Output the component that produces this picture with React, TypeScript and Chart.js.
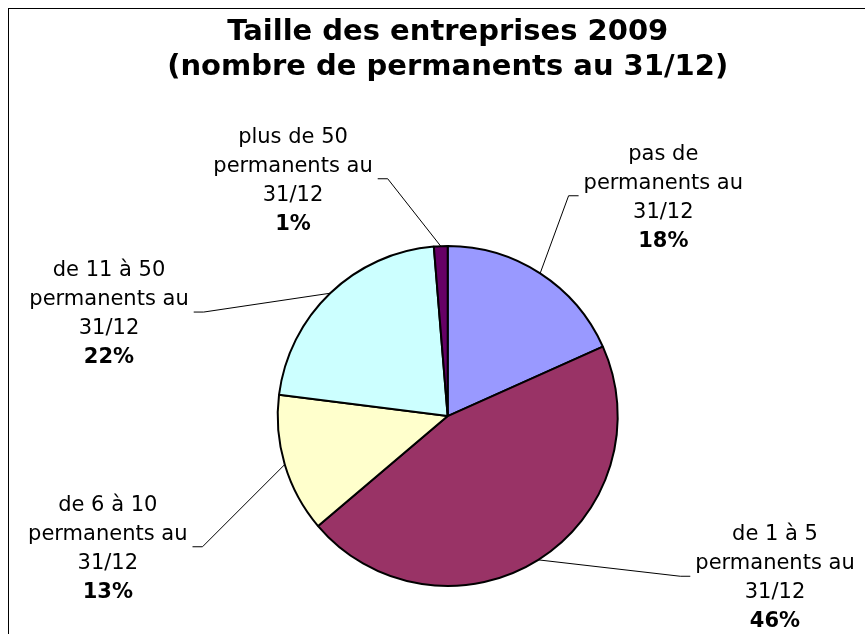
import React, { useEffect, useRef } from "react";
import { Chart, registerables } from "chart.js";

Chart.register(...registerables);

const titleLines = ["Taille des entreprises 2009", "(nombre de permanents au 31/12)"];
const categories = [
  ["pas de", "permanents au", "31/12"],
  ["de 1 à 5", "permanents au", "31/12"],
  ["de 6 à 10", "permanents au", "31/12"],
  ["de 11 à 50", "permanents au", "31/12"],
  ["plus de 50", "permanents au", "31/12"],
];
const values = [18.3, 45.5, 13.2, 21.7, 1.3];
const colors = ["#9999FF", "#993366", "#FFFFCC", "#CCFFFF", "#660066"];

// label box centres relative to the pie centre (styling only)
const labelOffsets = [
  [215.6, -218.3],
  [327.3, 162.2],
  [-339.9, 132.7],
  [-338.7, -102],
  [-154.7, -235.3],
];

const FONT = "'DejaVu Sans', Verdana, sans-serif";

const labelPlugin = {
  id: "outerLabels",
  afterDatasetsDraw(chart: any) {
    const ctx = chart.ctx;
    const meta = chart.getDatasetMeta(0);
    const data = chart.data.datasets[0].data as number[];
    const total = data.reduce((a, b) => a + b, 0);
    const lineH = 29;
    ctx.save();
    meta.data.forEach((arc: any, i: number) => {
      const { x, y, startAngle, endAngle, outerRadius } = arc.getProps(
        ["x", "y", "startAngle", "endAngle", "outerRadius"],
        true
      );
      const mid = (startAngle + endAngle) / 2;
      const sx = x + Math.cos(mid) * outerRadius;
      const sy = y + Math.sin(mid) * outerRadius;
      const lines: string[] = [...(chart.data.labels[i] as string[])];
      const pct = Math.round((data[i] / total) * 100) + "%";
      const cx = x + labelOffsets[i][0];
      const cy = y + labelOffsets[i][1];
      ctx.font = `21px ${FONT}`;
      let maxW = 0;
      lines.forEach((l) => (maxW = Math.max(maxW, ctx.measureText(l).width)));
      const hw = maxW / 2 + 5;
      const right = cx > x;
      const ex = right ? cx - hw : cx + hw;
      const ey = cy - 2;
      const bx = right ? ex - 10 : ex + 10;
      ctx.strokeStyle = "#000";
      ctx.lineWidth = 1;
      ctx.beginPath();
      ctx.moveTo(sx, sy);
      ctx.lineTo(bx, ey);
      ctx.lineTo(ex, ey);
      ctx.stroke();
      ctx.fillStyle = "#000";
      ctx.textAlign = "center";
      ctx.textBaseline = "middle";
      const all = [...lines, pct];
      const n = all.length;
      all.forEach((t, k) => {
        ctx.font = k === n - 1 ? `bold 21px ${FONT}` : `21px ${FONT}`;
        ctx.fillText(t, cx, cy + (k - (n - 1) / 2) * lineH);
      });
    });
    ctx.restore();
  },
};

export default function App() {
  const ref = useRef<HTMLCanvasElement>(null);
  useEffect(() => {
    if (!ref.current) return;
    const chart = new Chart(ref.current, {
      type: "pie",
      data: {
        labels: categories as any,
        datasets: [
          {
            data: values,
            backgroundColor: colors,
            borderColor: "#000",
            borderWidth: 2,
            radius: 170,
          } as any,
        ],
      },
      options: {
        responsive: false,
        animation: false,
        layout: { padding: { left: 21.4, right: 0, top: 0, bottom: 11.4 } },
        plugins: {
          legend: { display: false },
          tooltip: { enabled: false },
          title: {
            display: true,
            text: titleLines,
            color: "#000",
            font: { family: FONT, size: 29, weight: "bold" },
            lineHeight: 1.276,
            padding: { top: 5.9, bottom: 20 },
          },
        },
      },
      plugins: [labelPlugin],
    });
    return () => chart.destroy();
  }, []);
  return (
    <div
      style={{
        position: "fixed",
        left: 8,
        top: 8,
        width: 857,
        height: 626,
        overflow: "hidden",
        borderLeft: "1px solid #000",
        borderTop: "1px solid #000",
        boxSizing: "border-box",
        background: "#fff",
      }}
    >
      <canvas ref={ref} width={856} height={730} style={{ display: "block", width: 856, height: 730 }} />
    </div>
  );
}
